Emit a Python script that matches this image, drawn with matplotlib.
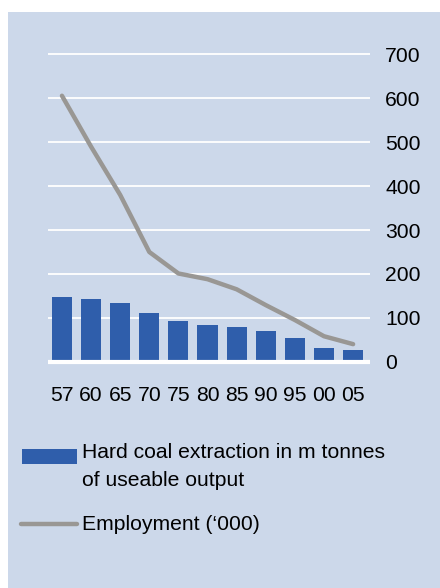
import matplotlib
matplotlib.use("Agg")
import matplotlib.pyplot as plt
from matplotlib.patches import Rectangle
from matplotlib.lines import Line2D

years = ["57", "60", "65", "70", "75", "80", "85", "90", "95", "00", "05"]
coal = [147, 143, 133, 111, 92, 84, 79, 70, 54, 31, 27]
employment = [606, 490, 380, 250, 201, 188, 165, 129, 95, 58, 40]
yticks = [0, 100, 200, 300, 400, 500, 600, 700]

BG = "#CCD8EA"
BAR = "#2F5EAB"
LINE = "#999794"
FONT = "Liberation Sans"
FS = 15.2
W, H = 440, 588

fig = plt.figure(figsize=(W / 100, H / 100), dpi=100, facecolor="white")
fig.patches.append(Rectangle((8 / W, 0), 1, 1 - 12 / H, transform=fig.transFigure,
                             facecolor=BG, edgecolor="none", zorder=-10))

ppu = 0.439  # pixels per unit
ylo, yhi = -8, 710
bottom_px = 361.7 - ylo * ppu
top_px = 54.5 - (yhi - 700) * ppu
left_px, right_px = 47.7, 370
ax = fig.add_axes([left_px / W, 1 - bottom_px / H, (right_px - left_px) / W,
                   (bottom_px - top_px) / H])
ax.set_zorder(5)
ax.set_facecolor("none")
x = list(range(len(years)))
ax.set_xlim(-0.49, 10.58)
ax.set_ylim(ylo, yhi)
for t in yticks:
    ax.axhline(t, color="white", lw=3.0 if t == 0 else 1.3, zorder=1 if t else 3)
ax.bar(x, coal, width=0.69, color=BAR, zorder=2)
ax.plot(x, employment, color=LINE, lw=3.2, solid_capstyle="round", zorder=4)

for s in ax.spines.values():
    s.set_visible(False)
ax.yaxis.tick_right()
ax.set_yticks(yticks)
ax.set_yticklabels([str(t) for t in yticks], family=FONT, fontsize=FS)
ax.set_xticks(x)
ax.set_xticklabels(years, family=FONT, fontsize=FS)
ax.tick_params(axis="y", length=0, pad=11)
ax.tick_params(axis="x", length=0, pad=15)

# legend
fig.patches.append(Rectangle((22 / W, 1 - 464 / H), 55 / W, 15 / H, transform=fig.transFigure,
                             facecolor=BAR, edgecolor="none"))
fig.lines.append(Line2D([21 / W, 77 / W], [1 - 524 / H, 1 - 524 / H], transform=fig.transFigure,
                        color=LINE, lw=3.2, solid_capstyle="round"))
fig.text(82 / W, 1 - 453 / H, "Hard coal extraction in m tonnes", family=FONT, fontsize=FS,
         va="center", ha="left")
fig.text(82 / W, 1 - 481 / H, "of useable output", family=FONT, fontsize=FS,
         va="center", ha="left")
fig.text(82 / W, 1 - 524 / H, "Employment (\u2018000)", family=FONT, fontsize=FS,
         va="center", ha="left")

fig.savefig("out.png", dpi=100, facecolor="white")
